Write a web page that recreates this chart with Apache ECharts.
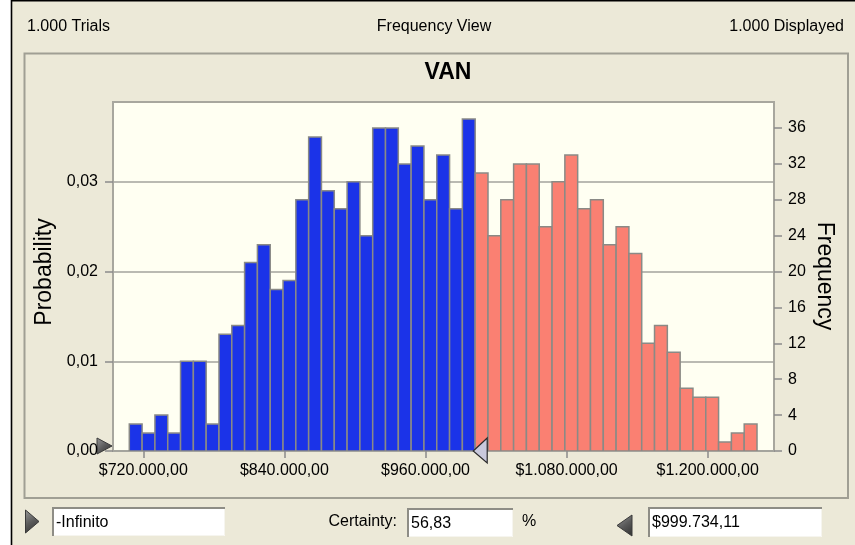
<!DOCTYPE html>
<html>
<head>
<meta charset="utf-8">
<script src="https://cdn.jsdelivr.net/npm/echarts@6/dist/echarts.min.js"></script>
<style>
  html, body { margin: 0; padding: 0; background: #ffffff; }
  #chart { width: 855px; height: 545px; }
</style>
</head>
<body>
<div id="chart"></div>
<script>
// Histogram of simulated VAN (NPV) values: counts per bin
const trials = 1000;
const binStart = 708100;     // lower edge of the first bin
const binWidth = 10895;      // width of each bin
const counts = [
  3, 2, 4, 2, 10, 10, 3, 13, 14, 21, 23, 18, 19,
  28, 35, 29, 27, 30, 24, 36, 36, 32, 34, 28, 33, 27, 37,
  31, 24, 28, 32, 32, 25, 30, 33, 27, 28, 23, 25, 22, 12, 14, 11, 7, 6, 6, 1, 2, 3
];
const certaintyUpper = 999734.11;   // right grabber value
const certaintyText = '56,83';
const xTickValues = [720000, 840000, 960000, 1080000, 1200000];
const probTickValues = [0, 0.01, 0.02, 0.03];
const freqTickValues = [0, 4, 8, 12, 16, 20, 24, 28, 32, 36];
const xMin = 694230, xMax = 1256400;
const freqMax = 38.9;

const bins = counts.map((c, i) => [binStart + i * binWidth, binStart + (i + 1) * binWidth, c]);

function money(v) {
  const s = Math.round(v).toString().replace(/\B(?=(\d{3})+(?!\d))/g, '.');
  return '$' + s + ',00';
}

const FONT = '"Liberation Sans", Arial, sans-serif';
const chart = echarts.init(document.getElementById('chart'), null, { renderer: 'canvas' });

const grid = { left: 113, right: 81, top: 102, bottom: 94 };

function textBox(x, y, w, h, text) {
  return [
    { type: 'rect', shape: { x: x, y: y, width: w, height: h }, style: { fill: '#ffffff', stroke: null } },
    { type: 'polyline', shape: { points: [[x + 1, y + h], [x + 1, y + 1], [x + w, y + 1]] }, style: { stroke: '#8e8d86', lineWidth: 2, fill: null } },
    { type: 'polyline', shape: { points: [[x + 2, y + h - 0.5], [x + w - 0.5, y + h - 0.5], [x + w - 0.5, y + 2]] }, style: { stroke: '#f6f5ef', lineWidth: 1, fill: null } },
    { type: 'text', x: x + 4, y: y + h / 2 + 1, style: { text: text, font: '16px ' + FONT, fill: '#000', verticalAlign: 'middle', align: 'left' } }
  ];
}

const grabberDark = {
  type: 'linear', x: 0, y: 0, x2: 1, y2: 1,
  colorStops: [{ offset: 0, color: '#9a9a9a' }, { offset: 0.5, color: '#5a5a5a' }, { offset: 1, color: '#2e2e2e' }]
};

const option = {
  backgroundColor: '#ECE9D8',
  animation: false,
  title: {
    text: 'VAN', left: 443, top: 56, textAlign: 'center',
    textStyle: { fontFamily: FONT, fontSize: 23, fontWeight: 'bold', color: '#000' }
  },
  grid: Object.assign({ show: true, backgroundColor: '#FFFFF2', borderColor: '#A8A79E', borderWidth: 2 }, grid),
  xAxis: {
    type: 'value', min: xMin, max: xMax,
    axisLine: { show: false },
    splitLine: { show: false },
    axisTick: { show: true, customValues: xTickValues, length: 7, lineStyle: { color: '#8a8a8a', width: 1.5 } },
    axisLabel: { customValues: xTickValues, formatter: money, margin: 12, color: '#000', fontFamily: FONT, fontSize: 16 }
  },
  yAxis: [
    {
      type: 'value', min: 0, max: freqMax / trials, interval: 0.01, position: 'left',
      axisLine: { show: false },
      splitLine: { show: true, lineStyle: { color: '#A3A39C', width: 1.5 } },
      axisTick: { show: true, customValues: probTickValues, length: 8, lineStyle: { color: '#8a8a8a', width: 1.5 } },
      axisLabel: { customValues: probTickValues, formatter: v => v.toFixed(2).replace('.', ','), margin: 15, color: '#000', fontFamily: FONT, fontSize: 16 }
    },
    {
      type: 'value', min: 0, max: freqMax, interval: 4, position: 'right',
      axisLine: { show: false },
      splitLine: { show: false },
      axisTick: { show: true, customValues: freqTickValues, length: 8, lineStyle: { color: '#8a8a8a', width: 1.5 } },
      axisLabel: { customValues: freqTickValues, margin: 14, color: '#000', fontFamily: FONT, fontSize: 16 }
    }
  ],
  series: [{
    type: 'custom',
    xAxisIndex: 0, yAxisIndex: 1,
    data: bins,
    clip: true,
    renderItem: function (params, api) {
      const x0 = api.value(0), x1 = api.value(1), c = api.value(2);
      const p0 = api.coord([x0, c]);
      const p1 = api.coord([x1, 0]);
      const inRange = x0 < certaintyUpper;
      return {
        type: 'rect',
        shape: { x: p0[0], y: p0[1], width: p1[0] - p0[0], height: p1[1] - p0[1] },
        style: { fill: inRange ? '#1B33E8' : '#FA8072', stroke: '#8A8A86', lineWidth: 1.5 }
      };
    }
  }],
  graphic: [
    // window edge
    { type: 'rect', shape: { x: 0, y: 0, width: 11, height: 545 }, style: { fill: '#ffffff' } },
    { type: 'polyline', shape: { points: [[11.5, 545], [11.5, 0.8], [855, 0.8]] }, style: { stroke: '#000', lineWidth: 1.6, fill: null } },
    // header
    { type: 'text', x: 27, y: 27, style: { text: '1.000 Trials', font: '16px ' + FONT, fill: '#000', verticalAlign: 'middle', align: 'left' } },
    { type: 'text', x: 434, y: 27, style: { text: 'Frequency View', font: '16px ' + FONT, fill: '#000', verticalAlign: 'middle', align: 'center' } },
    { type: 'text', x: 844, y: 27, style: { text: '1.000 Displayed', font: '16px ' + FONT, fill: '#000', verticalAlign: 'middle', align: 'right' } },
    // chart panel frame
    { type: 'rect', shape: { x: 24.5, y: 53.5, width: 823.5, height: 444.5 }, style: { fill: null, stroke: '#A09F94', lineWidth: 2 } },
    // axis titles
    { type: 'text', x: 45, y: 272, rotation: Math.PI / 2, style: { text: 'Probability', font: '23px ' + FONT, fill: '#000', align: 'center', verticalAlign: 'middle' } },
    { type: 'text', x: 824, y: 276, rotation: -Math.PI / 2, style: { text: 'Frequency', font: '23px ' + FONT, fill: '#000', align: 'center', verticalAlign: 'middle' } },
    // left grabber on the plot
    { type: 'polygon', id: 'leftGrab', shape: { points: [[97, 438], [112, 446], [97, 454]] }, style: { fill: grabberDark, stroke: '#3a3a3a', lineWidth: 1 } },
    // bottom controls
    { type: 'polygon', shape: { points: [[25.5, 510], [39, 521.5], [25.5, 533]] }, style: { fill: grabberDark, stroke: '#3a3a3a', lineWidth: 1 } }
  ].concat(
    textBox(52, 507, 173, 29, '-Infinito'),
    [{ type: 'text', x: 397, y: 522, style: { text: 'Certainty:', font: '16px ' + FONT, fill: '#000', verticalAlign: 'middle', align: 'right' } }],
    textBox(407, 508, 106, 29, certaintyText),
    [{ type: 'text', x: 522, y: 522, style: { text: '%', font: '16px ' + FONT, fill: '#000', verticalAlign: 'middle', align: 'left' } }],
    [{ type: 'polygon', shape: { points: [[632, 515], [617, 525.5], [632, 536]] }, style: { fill: grabberDark, stroke: '#3a3a3a', lineWidth: 1 } }],
    textBox(648, 507, 174, 30, '$' + '999.734,11')
  )
};

chart.setOption(option);

// right grabber sits at the upper certainty value on the x axis
const gx = chart.convertToPixel({ xAxisIndex: 0 }, certaintyUpper);
const gy = chart.convertToPixel({ yAxisIndex: 1 }, 0);
chart.setOption({
  graphic: [{
    type: 'polygon', id: 'rightGrab',
    shape: { points: [[gx + 15, gy - 13], [gx + 1, gy], [gx + 15, gy + 12]] },
    style: { fill: '#C9C9DC', stroke: '#2a2a2a', lineWidth: 1.2 },
    z: 100
  }]
});
</script>
</body>
</html>
